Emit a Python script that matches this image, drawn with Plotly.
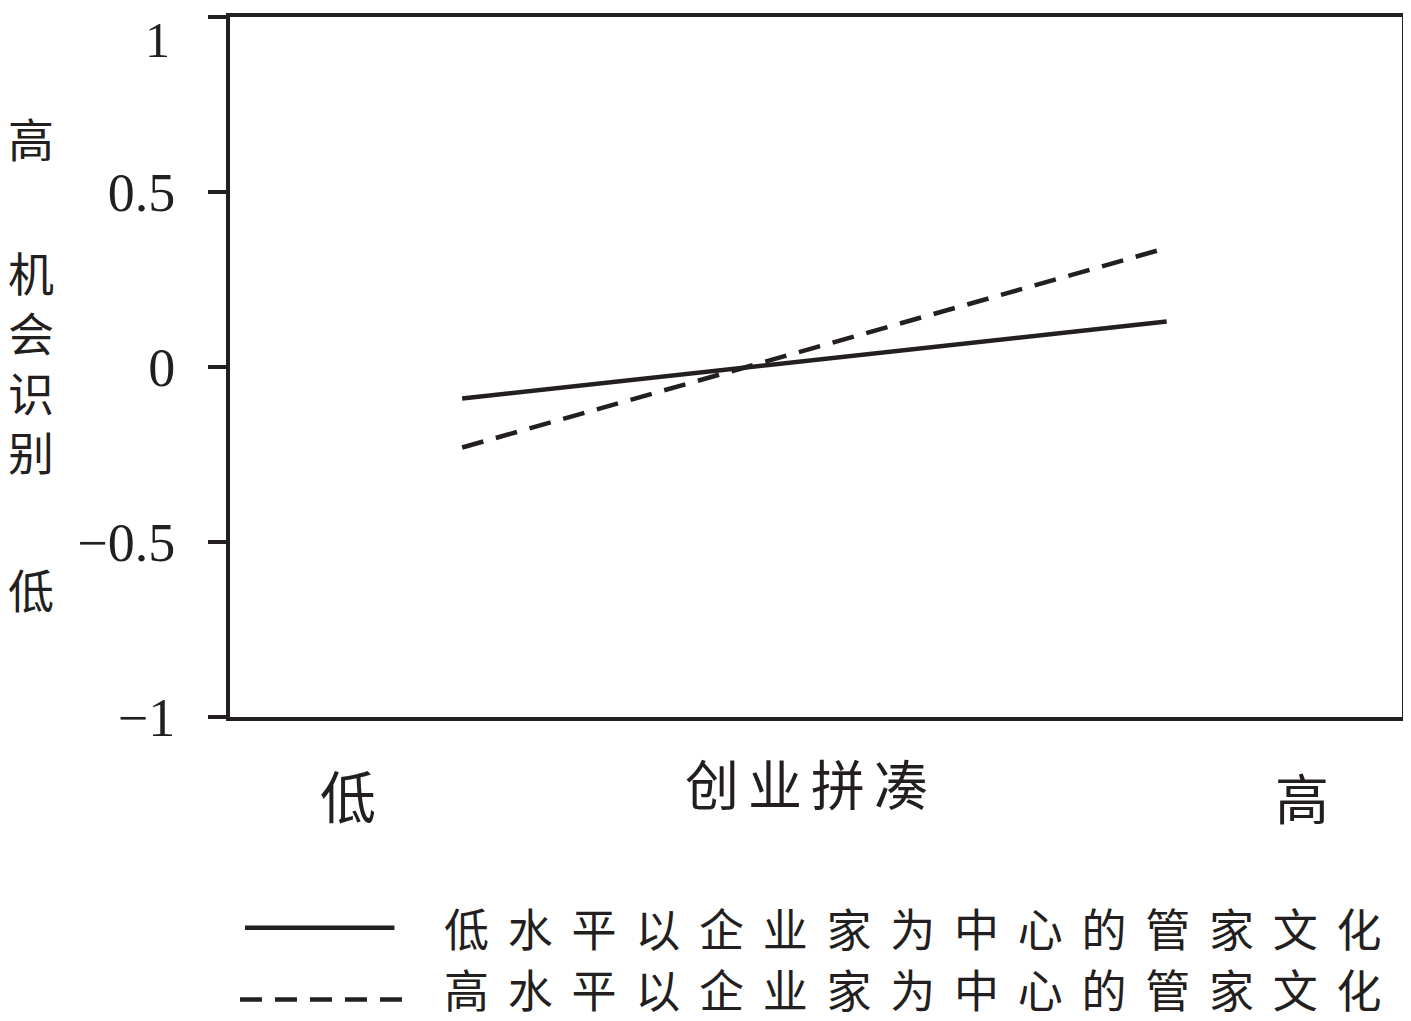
import plotly.graph_objects as go

# ---- data ----
x_levels = [-1, 1]                       # 低 / 高 创业拼凑
low_culture = [-0.09, 0.13]              # 低水平以企业家为中心的管家文化
high_culture = [-0.23, 0.34]             # 高水平以企业家为中心的管家文化
series_names = ["低水平以企业家为中心的管家文化", "高水平以企业家为中心的管家文化"]
y_tickvals = [1, 0.5, 0, -0.5, -1]
y_ticktext = ["", "0.5", "0", "−0.5", "−1"]
top_tick_label = "1"
x_title = "创业拼凑"
y_title_mid = "机会识别"

INK = "#231f20"
CJK = "Noto Sans CJK SC"
SERIF = "Liberation Serif"

OFF = 8                      # page body margin
W, H = 1411 - OFF, 1021 - OFF
# inner plot area in window pixels
L, R, T, B = 230, 1406, 16, 717


def px(x):
    return (x - L) / (R - L)


def py(y):
    return (B - y) / (B - T)


def spaced(s, sp):
    return sp.join(list(s))


fig = go.Figure()
fig.add_trace(go.Scatter(x=x_levels, y=low_culture, mode="lines", name=series_names[0],
                         line=dict(color=INK, width=4.5), showlegend=False))
fig.add_trace(go.Scatter(x=x_levels, y=high_culture, mode="lines", name=series_names[1],
                         line=dict(color=INK, width=4.5, dash="22px,13px"), showlegend=False))

fig.update_layout(
    width=W, height=H,
    margin=dict(l=L - OFF, r=(W + OFF) - R, t=T - OFF, b=(H + OFF) - B),
    paper_bgcolor="white", plot_bgcolor="white",
    xaxis=dict(range=[-1.659, 1.668], showgrid=False, zeroline=False, showticklabels=False,
               ticks="", showline=True, linecolor=INK, linewidth=4, mirror=True),
    yaxis=dict(range=[-1, 1], showgrid=False, zeroline=False,
               tickvals=y_tickvals, ticktext=y_ticktext, ticks="outside", ticklen=18,
               tickwidth=4, tickcolor=INK, ticklabelstandoff=22,
               tickfont=dict(family=SERIF, size=54, color=INK),
               showline=True, linecolor=INK, linewidth=4, mirror=True),
)


def note(text, x, y, size, font=CJK, xanchor="center", yanchor="middle"):
    return dict(text=text, x=px(x), y=py(y), xref="paper", yref="paper", showarrow=False,
                font=dict(family=font, size=size, color=INK), xanchor=xanchor, yanchor=yanchor)


ann = [
    note(top_tick_label, 157, OFF + 1, 50, font=SERIF, yanchor="top"),
    # y-axis title pieces
    note("高", 30, 136, 46),
    note("<br>".join(list(y_title_mid)), 30, 360, 46),
    note("低", 30, 588, 46),
    # x-axis labels
    note("低", 348, 794, 56),
    note(spaced(x_title, "\u2006"), 808, 783, 54),
    note("高", 1306, 797, 54),
]
for name, yc in zip(series_names, [928, 989]):
    ann.append(note(spaced(name, "\u2005\u2006"), 443, yc, 45, xanchor="left"))
fig.update_layout(annotations=ann)

# legend sample lines
fig.add_shape(type="line", xref="paper", yref="paper", x0=px(245), x1=px(395), y0=py(928), y1=py(928),
              line=dict(color=INK, width=4.5))
fig.add_shape(type="line", xref="paper", yref="paper", x0=px(240), x1=px(405), y0=py(1000), y1=py(1000),
              line=dict(color=INK, width=4.5, dash="22px,13px"))

fig.write_html("out.html")
